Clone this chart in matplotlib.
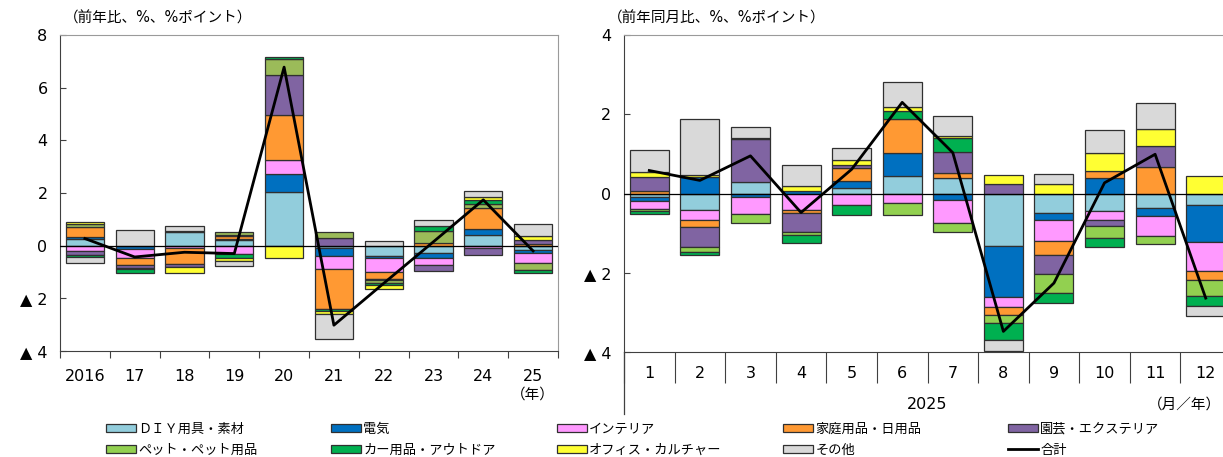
import matplotlib
matplotlib.use('Agg')
import matplotlib.pyplot as plt
from matplotlib.patches import Patch
from matplotlib.lines import Line2D
import numpy as np

plt.rcParams['font.family'] = ['DejaVu Sans', 'Noto Sans CJK JP']

# 系列名と色
names = ['ＤＩＹ用具・素材', '電気', 'インテリア', '家庭用品・日用品', '園芸・エクステリア',
         'ペット・ペット用品', 'カー用品・アウトドア', 'オフィス・カルチャー', 'その他']
colors_l = ['#92CDDC', '#0070C0', '#FF99FF', '#FF9933', '#8064A2',
            '#9BBB59', '#00B050', '#FFFF33', '#D9D9D9']
colors_r = ['#92CDDC', '#0070C0', '#FF99FF', '#FF9933', '#8064A2',
            '#92D050', '#00B050', '#FFFF33', '#D9D9D9']

# 左：年次（前年比）
years = ['2016', '17', '18', '19', '20', '21', '22', '23', '24', '25']
diy_y    = [0.25, 0.00, 0.50, 0.22, 2.04, -0.08, -0.38, -0.28, 0.42, -0.15]
elec_y   = [0.08, -0.12, 0.05, 0.05, 0.69, -0.32, -0.10, -0.20, 0.20, -0.12]
inter_y  = [-0.22, -0.35, -0.10, -0.30, 0.54, -0.50, -0.52, -0.25, -0.08, -0.40]
home_y   = [0.38, -0.25, -0.60, 0.10, 1.68, -1.50, -0.25, 0.10, 0.80, 0.08]
garden_y = [-0.12, -0.12, -0.10, 0.05, 1.52, 0.30, -0.05, -0.25, -0.27, 0.12]
pet_y    = [0.12, -0.04, -0.02, 0.10, 0.60, 0.22, -0.12, 0.45, 0.18, -0.25]
car_y    = [-0.09, -0.15, 0.00, -0.15, 0.09, -0.10, -0.06, 0.18, 0.15, -0.10]
office_y = [0.06, 0.00, -0.21, -0.12, -0.45, -0.10, -0.16, 0.00, 0.08, 0.18]
other_y  = [-0.22, 0.58, 0.20, -0.22, 0.00, -0.95, 0.19, 0.25, 0.26, 0.45]
total_y  = [0.27, -0.43, -0.25, -0.30, 6.78, -3.02, -1.43, 0.15, 1.74, -0.20]

# 右：月次（前年同月比）
months = ['1', '2', '3', '4', '5', '6', '7', '8', '9', '10', '11', '12']
diy_m    = [-0.10, -0.42, 0.30, 0.00, 0.14, 0.44, 0.38, -1.33, -0.48, -0.45, -0.36, -0.28]
elec_m   = [-0.08, 0.42, -0.10, 0.06, 0.18, 0.58, -0.17, -1.27, -0.20, 0.38, -0.21, -0.95]
inter_m  = [-0.20, -0.24, -0.42, -0.42, -0.30, -0.24, -0.58, -0.27, -0.53, -0.21, -0.50, -0.73]
home_m   = [0.07, -0.18, 0.00, -0.06, 0.32, 0.86, 0.14, -0.19, -0.35, 0.20, 0.68, -0.23]
garden_m = [0.35, -0.50, 1.08, -0.50, 0.08, 0.00, 0.52, 0.24, -0.47, -0.17, 0.52, 0.00]
pet_m    = [-0.05, -0.13, -0.22, -0.06, 0.00, -0.29, -0.23, -0.21, -0.48, -0.29, -0.20, -0.39]
car_m    = [-0.08, -0.07, 0.02, -0.20, -0.25, 0.20, 0.36, -0.43, -0.25, -0.24, 0.00, -0.25]
office_m = [0.12, 0.05, 0.00, 0.12, 0.12, 0.10, 0.05, 0.22, 0.23, 0.45, 0.42, 0.44]
other_m  = [0.55, 1.42, 0.28, 0.55, 0.32, 0.64, 0.51, -0.27, 0.27, 0.57, 0.66, -0.27]
total_m  = [0.58, 0.33, 0.95, -0.48, 0.61, 2.30, 1.03, -3.48, -2.26, 0.27, 0.99, -2.64]

edge = '#303030'


def stack(ax, series, total, colors):
    x = np.arange(len(total))
    pos = np.zeros(len(x))
    neg = np.zeros(len(x))
    for vals, c in zip(series, colors):
        v = np.array(vals, dtype=float)
        base = np.where(v >= 0, pos, neg)
        m = v != 0
        ax.bar(x[m], v[m], 0.77, bottom=base[m], color=c, edgecolor=edge,
               linewidth=0.9, zorder=2)
        pos += np.clip(v, 0, None)
        neg += np.clip(v, None, 0)
    ax.axhline(0, color='black', lw=0.9, zorder=3)
    ax.plot(x, total, color='black', lw=2.0, zorder=4)
    for s in ['top', 'right']:
        ax.spines[s].set_color('#9a9a9a')
    for s in ['left', 'bottom']:
        ax.spines[s].set_color('#404040')
    ax.set_xlim(-0.5, len(x) - 0.5)
    ax.set_xticks(np.arange(-0.5, len(x)))
    ax.set_xticklabels([''] * (len(x) + 1))
    ax.set_xticks(x, minor=True)
    ax.tick_params(axis='y', direction='in', length=4, pad=9, labelsize=11.5,
                   color='#404040')


fig = plt.figure(figsize=(12.23, 4.57), dpi=100)

# 左パネル
ax1 = fig.add_axes([60 / 1223, 1 - 351 / 457, 498 / 1223, 316 / 457])
stack(ax1, [diy_y, elec_y, inter_y, home_y, garden_y, pet_y, car_y, office_y, other_y],
      total_y, colors_l)
ax1.set_ylim(-4, 8)
ax1.set_yticks([-4, -2, 0, 2, 4, 6, 8])
ax1.set_yticklabels(['▲ 4', '▲ 2', '0', '2', '4', '6', '8'])
ax1.set_xticklabels(years, minor=True)
ax1.tick_params(axis='x', which='major', direction='out', length=5, color='#404040')
ax1.tick_params(axis='x', which='minor', length=0, pad=13, labelsize=11.5)
ax1.text(9, -0.135, '（年）', transform=ax1.get_xaxis_transform(),
         ha='center', va='center', fontsize=10.5)

# 右パネル
ax2 = fig.add_axes([624 / 1223, 1 - 352 / 457, 607 / 1223, 317 / 457])
stack(ax2, [diy_m, elec_m, inter_m, home_m, garden_m, pet_m, car_m, office_m, other_m],
      total_m, colors_r)
ax2.set_ylim(-4, 4)
ax2.set_yticks([-4, -2, 0, 2, 4])
ax2.set_yticklabels(['▲ 4', '▲ 2', '0', '2', '4'])
ax2.set_xticklabels(months, minor=True)
ax2.tick_params(axis='x', which='major', direction='out', length=22, color='#404040')
ax2.tick_params(axis='x', which='minor', length=0, pad=10, labelsize=11.5)
ax2.plot([0, 0], [0, -0.195], transform=ax2.transAxes, color='#404040',
         lw=0.9, clip_on=False)
ax2.text(0.5, -0.165, '2025', transform=ax2.transAxes, ha='center',
         va='center', fontsize=11.5)

fig.text(1221 / 1223, 1 - 404 / 457, '（月／年）', ha='right', va='center', fontsize=10.5)
fig.text(64 / 1223, 1 - 18 / 457, '（前年比、%、%ポイント）', ha='left', va='center',
         fontsize=10.5)
fig.text(608 / 1223, 1 - 18 / 457, '（前年同月比、%、%ポイント）', ha='left', va='center',
         fontsize=10.5)

# 凡例（5列×2行）
handles = [Patch(facecolor=c, edgecolor=edge, linewidth=0.9) for c in colors_r]
handles.append(Line2D([], [], color='black', lw=2.0))
labels = names + ['合計']
col_x = [106, 331, 557, 783, 1008]
order = [(0, 5), (1, 6), (2, 7), (3, 8), (4, 9)]
for cx, (a, b) in zip(col_x, order):
    fig.legend([handles[a], handles[b]], [labels[a], labels[b]],
               loc='upper left', bbox_to_anchor=(cx / 1223, 1 - 422.5 / 457),
               frameon=False, borderpad=0, borderaxespad=0, fontsize=9.5,
               handlelength=2.25, handleheight=0.5, handletextpad=0.2,
               labelspacing=0.62)

fig.savefig('out.png', dpi=100)
